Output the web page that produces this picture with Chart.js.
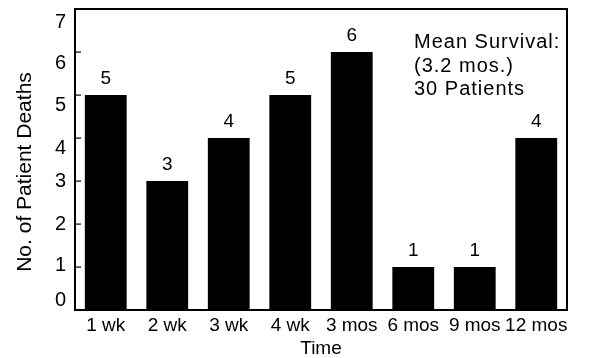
<!DOCTYPE html>
<html>
<head>
<meta charset="utf-8">
<script src="https://cdn.jsdelivr.net/npm/chart.js@4/dist/chart.umd.min.js"></script>
<style>
  html, body { margin: 0; padding: 0; background: #fff; }
  #wrap { width: 602px; height: 358px; position: relative; }
</style>
</head>
<body>
<div id="wrap"><canvas id="deaths-chart"></canvas></div>
<script>
(function () {
  "use strict";

  var categories = ["1 wk", "2 wk", "3 wk", "4 wk", "3 mos", "6 mos", "9 mos", "12 mos"];
  var deaths = [5, 3, 4, 5, 6, 1, 1, 4];
  var yTicks = [0, 1, 2, 3, 4, 5, 6, 7];
  var noteLines = ["Mean Survival:", "(3.2 mos.)", "30 Patients"];

  var FONT = "'Liberation Sans', Arial, Helvetica, sans-serif";
  // the printed tick numbers sit a little off their tick marks
  var yLabelShift = [-10, -2, 0, 0, 10, 10, 11, 13];

  // frame, inward tick marks, tick numbers, bar values, axis title and the note
  var decorations = {
    id: "decorations",
    afterDraw: function (chart) {
      var ctx = chart.ctx;
      var area = chart.chartArea;
      var y = chart.scales.y;
      var l = Math.round(area.left), r = Math.round(area.right);
      var t = Math.round(area.top), b = Math.round(area.bottom);
      ctx.save();
      ctx.fillStyle = "#000";
      ctx.fillRect(l - 1, t - 1, r - l + 2, 2);
      ctx.fillRect(l - 1, b - 1, r - l + 2, 2);
      ctx.fillRect(l - 1, t - 1, 2, b - t + 2);
      ctx.fillRect(r - 1, t - 1, 2, b - t + 2);

      ctx.font = "20px " + FONT;
      ctx.textAlign = "right";
      ctx.textBaseline = "middle";
      yTicks.forEach(function (v, i) {
        var py = Math.round(y.getPixelForValue(v));
        ctx.fillRect(l, py - 0.5, 6, 1.2);
        ctx.fillText(String(v), l - 9, py + yLabelShift[i]);
      });

      ctx.save();
      ctx.translate(25, 172);
      ctx.rotate(-Math.PI / 2);
      ctx.font = "21px " + FONT;
      ctx.textAlign = "center";
      ctx.fillText("No. of Patient Deaths", 0, 0);
      ctx.restore();

      ctx.font = "19px " + FONT;
      ctx.textAlign = "center";
      ctx.textBaseline = "alphabetic";
      chart.getDatasetMeta(0).data.forEach(function (bar, i) {
        ctx.fillText(String(deaths[i]), bar.x, bar.y - 11);
      });

      ctx.font = "20px " + FONT;
      ctx.textAlign = "left";
      if ("letterSpacing" in ctx) ctx.letterSpacing = "1px";
      noteLines.forEach(function (line, i) {
        ctx.fillText(line, 414, 48 + i * 23.5);
      });
      ctx.restore();
    },
  };

  new Chart(document.getElementById("deaths-chart"), {
    type: "bar",
    data: {
      labels: categories,
      datasets: [
        {
          data: deaths,
          backgroundColor: "#000",
          borderWidth: 0,
          barPercentage: 0.68,
          categoryPercentage: 1,
        },
      ],
    },
    options: {
      responsive: true,
      maintainAspectRatio: false,
      animation: false,
      events: [],
      layout: { autoPadding: false, padding: { top: 9, right: 35, left: 0, bottom: 0 } },
      plugins: { legend: { display: false }, tooltip: { enabled: false } },
      scales: {
        x: {
          grid: { display: false, drawTicks: false },
          border: { display: false },
          ticks: {
            color: "#000",
            font: { family: FONT, size: 19 },
            padding: 4,
            maxRotation: 0,
            autoSkip: false,
          },
          title: {
            display: true,
            text: "Time",
            color: "#000",
            font: { family: FONT, size: 19 },
            padding: { top: 0, bottom: -2 },
          },
          afterFit: function (scale) {
            scale.height = 48;
            scale.paddingLeft = 0;
            scale.paddingRight = 0;
          },
        },
        y: {
          min: 0,
          max: 7,
          grid: { display: false, drawTicks: false },
          border: { display: false },
          ticks: { stepSize: 1, display: false },
          afterFit: function (scale) {
            scale.width = 75;
            scale.paddingTop = 0;
            scale.paddingBottom = 0;
          },
        },
      },
    },
    plugins: [decorations],
  });
})();
</script>
</body>
</html>
